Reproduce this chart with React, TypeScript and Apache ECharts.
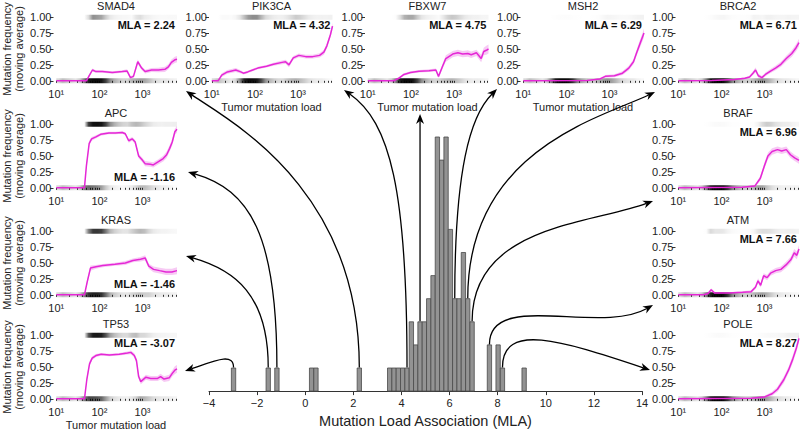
import React, { useEffect, useRef } from 'react';
import * as echarts from 'echarts';

// ---- Panel curves: [tumor mutation load, moving-average mutation frequency, band half-width]
const SMAD4 = [
  [10, 0, 0], [50, 0, 0.004], [58, 0.08, 0.02], [69, 0.17, 0.025], [83, 0.145, 0.02],
  [117, 0.145, 0.02], [200, 0.13, 0.02], [339, 0.145, 0.02], [437, 0.155, 0.025],
  [525, 0.05, 0.02], [617, 0.07, 0.025], [776, 0.3, 0.035], [955, 0.2, 0.03],
  [1148, 0.145, 0.03], [1622, 0.17, 0.03], [2344, 0.17, 0.035], [3311, 0.18, 0.04],
  [3981, 0.22, 0.04], [4677, 0.29, 0.045], [5623, 0.33, 0.05], [6310, 0.34, 0.05],
];
const PIK3CA = [
  [10, 0, 0], [14, 0, 0.005], [17, 0.09, 0.03], [23, 0.14, 0.03], [36, 0.17, 0.03],
  [47, 0.14, 0.025], [54, 0.12, 0.02], [68, 0.14, 0.02], [89, 0.17, 0.02], [117, 0.2, 0.02],
  [186, 0.23, 0.02], [269, 0.26, 0.025], [427, 0.29, 0.03], [513, 0.3, 0.03], [617, 0.25, 0.035],
  [776, 0.36, 0.03], [1047, 0.4, 0.03], [1514, 0.38, 0.03], [2188, 0.38, 0.03], [3162, 0.4, 0.035],
  [3981, 0.45, 0.04], [4677, 0.55, 0.04], [5623, 0.72, 0.045], [6310, 0.86, 0.05],
];
const FBXW7 = [
  [10, 0, 0], [40, 0, 0.004], [52, 0.04, 0.015], [69, 0.1, 0.02], [98, 0.13, 0.02],
  [155, 0.15, 0.02], [263, 0.16, 0.02], [380, 0.17, 0.025], [437, 0.07, 0.025], [537, 0.22, 0.04],
  [646, 0.35, 0.05], [933, 0.42, 0.05], [1230, 0.44, 0.05], [1585, 0.42, 0.05], [2089, 0.43, 0.05],
  [2512, 0.41, 0.05], [3311, 0.44, 0.05], [4266, 0.35, 0.06], [4898, 0.46, 0.06], [5623, 0.48, 0.07],
  [6310, 0.5, 0.07],
];
const MSH2 = [
  [10, 0, 0], [300, 0.005, 0.005], [600, 0.03, 0.015], [800, 0.07, 0.02], [1300, 0.08, 0.025],
  [2000, 0.12, 0.03], [2800, 0.2, 0.035], [3600, 0.3, 0.04], [4300, 0.45, 0.05], [5200, 0.6, 0.06],
  [6310, 0.75, 0.07],
];
const BRCA2 = [
  [10, 0, 0], [60, 0.005, 0.005], [200, 0.02, 0.01], [350, 0.04, 0.015], [450, 0.06, 0.02],
  [540, 0.12, 0.03], [620, 0.17, 0.04], [720, 0.08, 0.03], [870, 0.05, 0.025], [1050, 0.1, 0.03],
  [1350, 0.15, 0.03], [1800, 0.2, 0.035], [2400, 0.26, 0.04], [3200, 0.35, 0.045], [4300, 0.43, 0.05],
  [5400, 0.52, 0.055], [6310, 0.6, 0.06],
];
const APC = [
  [10, 0, 0], [45, 0, 0.005], [50, 0.35, 0.04], [58, 0.7, 0.04], [66, 0.77, 0.03], [83, 0.8, 0.025],
  [107, 0.84, 0.02], [166, 0.86, 0.02], [234, 0.86, 0.02], [339, 0.87, 0.02], [398, 0.85, 0.025],
  [479, 0.74, 0.03], [575, 0.77, 0.03], [676, 0.72, 0.03], [813, 0.5, 0.035], [955, 0.45, 0.035],
  [1148, 0.38, 0.04], [1514, 0.37, 0.04], [1778, 0.36, 0.04], [2344, 0.41, 0.04], [3020, 0.46, 0.045],
  [3631, 0.52, 0.05], [4266, 0.62, 0.05], [4898, 0.72, 0.05], [5623, 0.88, 0.05], [6310, 0.92, 0.05],
];
const KRAS = [
  [10, 0, 0], [45, 0, 0.005], [52, 0.2, 0.04], [62, 0.42, 0.04], [83, 0.44, 0.03], [120, 0.46, 0.025],
  [230, 0.48, 0.025], [400, 0.5, 0.03], [600, 0.54, 0.03], [900, 0.56, 0.035], [1150, 0.58, 0.04],
  [1400, 0.45, 0.04], [1800, 0.4, 0.045], [2500, 0.38, 0.045], [3500, 0.36, 0.05], [4800, 0.36, 0.05],
  [6310, 0.38, 0.055],
];
const TP53 = [
  [10, 0, 0], [45, 0, 0.005], [51, 0.3, 0.04], [59, 0.55, 0.04], [68, 0.64, 0.03], [83, 0.68, 0.025],
  [110, 0.7, 0.02], [170, 0.69, 0.02], [288, 0.7, 0.02], [447, 0.72, 0.025], [537, 0.73, 0.03],
  [646, 0.68, 0.035], [724, 0.6, 0.04], [813, 0.35, 0.04], [912, 0.27, 0.04], [1202, 0.34, 0.04],
  [1549, 0.32, 0.04], [2239, 0.32, 0.04], [2630, 0.35, 0.045], [3162, 0.31, 0.045], [4169, 0.33, 0.05],
  [4898, 0.4, 0.05], [5623, 0.45, 0.06], [6310, 0.47, 0.06],
];
const BRAF = [
  [10, 0, 0], [300, 0.01, 0.008], [600, 0.03, 0.02], [800, 0.15, 0.04], [1000, 0.35, 0.05],
  [1200, 0.5, 0.05], [1500, 0.57, 0.05], [2000, 0.6, 0.05], [2500, 0.58, 0.05], [3200, 0.6, 0.05],
  [4000, 0.52, 0.05], [5000, 0.47, 0.05], [6310, 0.43, 0.05],
];
const ATM = [
  [10, 0, 0], [39, 0, 0.004], [49, 0.02, 0.015], [58, 0.08, 0.025], [69, 0.03, 0.015], [145, 0.03, 0.01],
  [309, 0.04, 0.015], [490, 0.05, 0.02], [617, 0.12, 0.03], [708, 0.22, 0.04], [813, 0.15, 0.035],
  [955, 0.3, 0.04], [1148, 0.27, 0.04], [1380, 0.34, 0.04], [1820, 0.38, 0.04], [2399, 0.4, 0.045],
  [3162, 0.47, 0.05], [4074, 0.55, 0.05], [4898, 0.66, 0.06], [5600, 0.62, 0.06], [6310, 0.72, 0.06],
];
const POLE = [
  [10, 0, 0], [500, 0.01, 0.008], [1000, 0.03, 0.02], [1500, 0.08, 0.03], [2000, 0.15, 0.04],
  [2800, 0.3, 0.05], [3600, 0.45, 0.05], [4500, 0.62, 0.06], [5500, 0.8, 0.06], [6310, 0.95, 0.06],
];

const GENES = ['SMAD4', 'PIK3CA', 'FBXW7', 'MSH2', 'BRCA2', 'APC', 'KRAS', 'TP53', 'BRAF', 'ATM', 'POLE'];
const MLA = [2.24, 4.32, 4.75, 6.29, 6.71, -1.16, -1.46, -3.07, 6.96, 7.66, 8.27];
const CURVES = [SMAD4, PIK3CA, FBXW7, MSH2, BRCA2, APC, KRAS, TP53, BRAF, ATM, POLE];

// Sample density along log10(load) in 0.1-decade bins starting at 10^1 (rug shading)
const RUG_DENSITY = [
  0.16, 0.29, 0.22, 0.16, 0.1, 0.22, 0.7, 2.3, 3.5, 3.5, 3.0, 1.6, 0.7, 0.43,
  0.29, 0.22, 0.22, 0.36, 0.5, 0.6, 0.5, 0.36, 0.22, 0.16, 0.13, 0.13, 0.1, 0.08,
];

// Histogram of MLA values
const BIN_START = -3.07;
const BIN_WIDTH = 0.1803;
const BIN_COUNTS = [
  1, 0, 0, 0, 0, 0, 0, 0, 1, 0, 1, 0, 0, 0, 0, 0, 0, 0, 1, 1,
  0, 0, 0, 0, 0, 0, 0, 0, 0, 1, 0, 0, 0, 0, 0, 0, 1, 1, 1, 1,
  1, 3, 2, 3, 3, 4, 5, 11, 10, 11, 7, 4, 4, 6, 4, 3, 0, 0, 0, 2,
  0, 2, 1, 0, 0, 0, 0, 1,
];

const LOAD_LABEL_TICKS = [10, 100, 1000];
const FREQ_TICKS = [0, 0.25, 0.5, 0.75, 1];

// ---- layout / style
const FONT = '"Liberation Sans", Arial, Helvetica, sans-serif';
const INK = '#222';
const MAGENTA = '#e527d6';
const BAND = 'rgba(232, 95, 222, 0.33)';
const PW = 122;
const PH = 70;
const LOG_MIN = 0.97;
const LOG_MAX = 3.8;
const HIST = 11;

type Lay = { left: number; top: number; xName?: boolean; yName?: boolean; mlaBottom?: boolean };
const LAYOUT: Lay[] = [
  { left: 55, top: 14, yName: true },
  { left: 210.5, top: 14, xName: true },
  { left: 366.5, top: 14, xName: true },
  { left: 522, top: 14, xName: true },
  { left: 677, top: 14 },
  { left: 55, top: 121, yName: true, mlaBottom: true },
  { left: 55, top: 228, yName: true, mlaBottom: true },
  { left: 55, top: 332, yName: true, xName: true },
  { left: 677, top: 121 },
  { left: 677, top: 228 },
  { left: 677, top: 332 },
];
// arrow geometry (pixels): first control height, second control point, tip
const ARROWS: { c1y: number; c2: number[] | null; end: number[] }[] = [
  { c1y: 190, c2: [232, 122], end: [186, 91] },
  { c1y: 190, c2: [390, 122], end: [344, 90] },
  { c1y: 0, c2: null, end: [0, 114] },
  { c1y: 170, c2: [470, 116], end: [497, 89] },
  { c1y: 150, c2: [600, 118], end: [655, 92] },
  { c1y: 235, c2: [250, 190], end: [188, 172] },
  { c1y: 295, c2: [235, 270], end: [186, 256] },
  { c1y: 352, c2: [214, 361], end: [185, 371] },
  { c1y: 225, c2: [592, 224], end: [653, 201] },
  { c1y: 290, c2: [600, 335], end: [653, 305] },
  { c1y: 322, c2: [560, 340], end: [650, 370] },
];

const lg = (v: number) => Math.log10(v);
const SUP: Record<number, string> = { 1: '\u00b9', 2: '\u00b2', 3: '\u00b3' };

function freqAt(curve: number[][], L: number) {
  for (let i = 0; i < curve.length - 1; i++) {
    const a = lg(curve[i][0]);
    const b = lg(curve[i + 1][0]);
    if (L >= a && L <= b) {
      const t = b === a ? 0 : (L - a) / (b - a);
      return curve[i][1] + t * (curve[i + 1][1] - curve[i][1]);
    }
  }
  return L < lg(curve[0][0]) ? curve[0][1] : curve[curve.length - 1][1];
}

function rugStops(curve: number[][], level: number) {
  const stops: { offset: number; color: string }[] = [];
  const n = RUG_DENSITY.length;
  for (let i = 0; i < n; i++) {
    const L = 1.05 + 0.1 * i;
    const f = Math.min(1, Math.max(0, freqAt(curve, L)));
    const share = level === 1 ? f : 1 - f;
    const a = 1 - Math.exp(-RUG_DENSITY[i] * share);
    const off = (L - 1.0) / (LOG_MAX - 1.0);
    if (i === 0) stops.push({ offset: 0, color: `rgba(0,0,0,${a.toFixed(3)})` });
    stops.push({ offset: off, color: `rgba(0,0,0,${a.toFixed(3)})` });
    if (i === n - 1) stops.push({ offset: 1, color: `rgba(0,0,0,${a.toFixed(3)})` });
  }
  return stops;
}

function loadTicks() {
  const t: number[] = [];
  [10, 100, 1000].forEach((d) => {
    for (let k = 1; k <= 9; k++) {
      const v = lg(k * d);
      if (v <= LOG_MAX + 1e-9) t.push(v);
    }
  });
  return t;
}

function buildOption() {
  const grid: any[] = [];
  const xAxis: any[] = [];
  const yAxis: any[] = [];
  const series: any[] = [];
  const minor = loadTicks();

  GENES.forEach((g, i) => {
    const L = LAYOUT[i];
    const curve = CURVES[i];
    grid.push({ left: L.left, top: L.top, width: PW, height: PH });
    xAxis.push({
      gridIndex: i,
      type: 'value',
      min: LOG_MIN,
      max: LOG_MAX,
      axisLine: { show: false },
      splitLine: { show: false },
      axisTick: { show: true, length: 2, customValues: minor, lineStyle: { color: '#333', width: 1 } },
      axisLabel: {
        customValues: LOAD_LABEL_TICKS.map(lg),
        formatter: (v: number) => '10' + (SUP[Math.round(v)] || ''),
        fontSize: 11,
        margin: 4,
        color: INK,
        fontFamily: FONT,
      },
      name: L.xName ? 'Tumor mutation load' : '',
      nameLocation: 'middle',
      nameGap: 17,
      nameTextStyle: { fontSize: 11, color: INK, fontFamily: FONT },
    });
    yAxis.push({
      gridIndex: i,
      type: 'value',
      min: -0.05,
      max: 1.05,
      offset: 1.5,
      axisLine: { show: false },
      splitLine: { show: false },
      axisTick: { show: true, length: 3.5, customValues: FREQ_TICKS, lineStyle: { color: '#333', width: 1 } },
      axisLabel: {
        customValues: FREQ_TICKS,
        formatter: (v: number) => v.toFixed(2),
        fontSize: 11,
        margin: 2,
        color: INK,
        fontFamily: FONT,
      },
    });
    // rugs (mutated at 1, wild type at 0)
    series.push({
      type: 'custom',
      xAxisIndex: i,
      yAxisIndex: i,
      silent: true,
      z: 1,
      data: [[2, 1], [2, 0]],
      renderItem: (_p: any, api: any) => {
        const level = api.value(1);
        const a = api.coord([1.0, level]);
        const b = api.coord([LOG_MAX, level]);
        return {
          type: 'rect',
          shape: { x: a[0], y: a[1] - 2.5, width: b[0] - a[0], height: 5 },
          style: { fill: new echarts.graphic.LinearGradient(0, 0, 1, 0, rugStops(curve, level)) },
        };
      },
    });
    // confidence band
    series.push({
      type: 'custom',
      xAxisIndex: i,
      yAxisIndex: i,
      silent: true,
      z: 2,
      data: [[2, 0.5]],
      renderItem: (_p: any, api: any) => {
        const up = curve.map((p) => api.coord([lg(p[0]), Math.min(1.05, p[1] + p[2])]));
        const lo = curve.map((p) => api.coord([lg(p[0]), Math.max(0, p[1] - p[2])])).reverse();
        return { type: 'polygon', shape: { points: up.concat(lo) }, style: { fill: BAND } };
      },
    });
    series.push({
      type: 'line',
      xAxisIndex: i,
      yAxisIndex: i,
      silent: true,
      z: 3,
      symbol: 'none',
      showSymbol: false,
      lineStyle: { color: MAGENTA, width: 1.5 },
      data: curve.map((p) => [lg(p[0]), p[1]]),
    });
  });

  // histogram
  grid.push({ left: 209, top: 137, width: 433, height: 264 });
  xAxis.push({
    gridIndex: HIST,
    type: 'value',
    min: -4,
    max: 14,
    interval: 2,
    splitLine: { show: false },
    axisLine: { lineStyle: { color: '#333', width: 1 } },
    axisTick: { length: 4, lineStyle: { color: '#333' } },
    axisLabel: {
      fontSize: 11,
      margin: 6,
      color: INK,
      fontFamily: FONT,
      formatter: (v: number) => String(v).replace('-', '\u2212'),
    },
    name: 'Mutation Load Association (MLA)',
    nameLocation: 'middle',
    nameGap: 15,
    nameTextStyle: { fontSize: 14.5, color: INK, fontFamily: FONT },
  });
  yAxis.push({ gridIndex: HIST, type: 'value', min: 0, max: 11, show: false });
  const bins: number[][] = [];
  BIN_COUNTS.forEach((c, k) => {
    if (c > 0) bins.push([BIN_START + k * BIN_WIDTH, BIN_START + (k + 1) * BIN_WIDTH, c]);
  });
  series.push({
    type: 'custom',
    xAxisIndex: HIST,
    yAxisIndex: HIST,
    silent: true,
    encode: { x: [0, 1], y: 2 },
    data: bins,
    renderItem: (_p: any, api: any) => {
      const p0 = api.coord([api.value(0), api.value(2)]);
      const p1 = api.coord([api.value(1), 0]);
      return {
        type: 'rect',
        shape: { x: p0[0], y: p0[1], width: p1[0] - p0[0], height: p1[1] - p0[1] },
        style: { fill: '#939393', stroke: '#4a4a4a', lineWidth: 0.8 },
      };
    },
  });

  return {
    animation: false,
    textStyle: { fontFamily: FONT },
    grid,
    xAxis,
    yAxis,
    series,
  };
}

function buildGraphics(chart: any) {
  const els: any[] = [];
  GENES.forEach((g, i) => {
    const L = LAYOUT[i];
    els.push({
      type: 'text',
      x: L.left + PW / 2,
      y: L.top - 8,
      silent: true,
      style: { text: g, textAlign: 'center', textVerticalAlign: 'middle', font: `11px ${FONT}`, fill: INK },
    });
    els.push({
      type: 'text',
      x: L.left + PW - 2,
      y: L.mlaBottom ? L.top + 55.5 : L.top + 11,
      silent: true,
      style: {
        text: `MLA = ${MLA[i].toFixed(2)}`,
        textAlign: 'right',
        textVerticalAlign: 'middle',
        font: `bold 11px ${FONT}`,
        fill: '#111',
      },
    });
    if (L.yName) {
      els.push({
        type: 'text',
        x: 13,
        y: L.top + PH / 2,
        rotation: Math.PI / 2,
        silent: true,
        style: {
          text: 'Mutation frequency\n(moving average)',
          textAlign: 'center',
          textVerticalAlign: 'middle',
          font: `11px ${FONT}`,
          lineHeight: 12,
          fill: INK,
        },
      });
    }
    // arrow from histogram bar to the panel
    const k = Math.floor((MLA[i] - BIN_START) / BIN_WIDTH);
    const bc = BIN_START + (k + 0.5) * BIN_WIDTH;
    const s = chart.convertToPixel({ gridIndex: HIST }, [bc, BIN_COUNTS[k]]);
    const A = ARROWS[i];
    const sx = s[0];
    const sy = s[1] - 0.5;
    let end = A.end;
    let c1 = [sx, A.c1y];
    let c2 = A.c2;
    if (!c2) {
      end = [sx, A.end[1]];
      c1 = [sx, (sy * 2 + end[1]) / 3];
      c2 = [sx, (sy + end[1] * 2) / 3];
    }
    const dx = end[0] - c2[0];
    const dy = end[1] - c2[1];
    const len = Math.hypot(dx, dy) || 1;
    const ux = dx / len;
    const uy = dy / len;
    const nx = -uy;
    const ny = ux;
    const back = [end[0] - ux * 10, end[1] - uy * 10];
    const notch = [end[0] - ux * 7, end[1] - uy * 7];
    els.push({
      type: 'bezierCurve',
      silent: true,
      z: 10,
      shape: {
        x1: sx, y1: sy, cpx1: c1[0], cpy1: c1[1], cpx2: c2[0], cpy2: c2[1],
        x2: notch[0], y2: notch[1],
      },
      style: { stroke: '#000', lineWidth: 1.3, fill: 'none' },
    });
    els.push({
      type: 'polygon',
      silent: true,
      z: 10,
      shape: {
        points: [
          end,
          [back[0] + nx * 4, back[1] + ny * 4],
          notch,
          [back[0] - nx * 4, back[1] - ny * 4],
        ],
      },
      style: { fill: '#000' },
    });
  });
  return els;
}

export default function App() {
  const ref = useRef<HTMLDivElement>(null);
  useEffect(() => {
    const chart = echarts.init(ref.current as HTMLDivElement, null, { renderer: 'svg' });
    chart.setOption(buildOption());
    chart.setOption({ graphic: { elements: buildGraphics(chart) } });
    return () => chart.dispose();
  }, []);
  return <div ref={ref} style={{ position: 'absolute', left: 0, top: 0, width: 800, height: 433 }} />;
}
